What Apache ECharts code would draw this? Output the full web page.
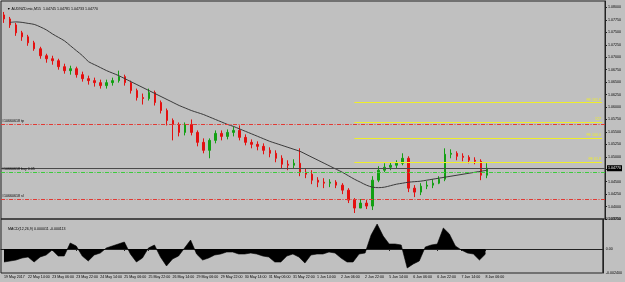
<!DOCTYPE html>
<html>
<head>
<meta charset="utf-8">
<script src="https://cdn.jsdelivr.net/npm/echarts@6/dist/echarts.min.js"></script>
<style>
  html, body { margin: 0; padding: 0; background: #c0c0c0; }
  #chart { width: 625px; height: 282px; }
</style>
</head>
<body>
<div id="chart"></div>
<script>
/* 4-hour buckets of the M15 chart */
const days = ['22 May', '23 May', '24 May', '25 May', '26 May', '29 May', '30 May', '31 May',
  '1 Jun', '2 Jun', '5 Jun', '6 Jun', '7 Jun', '8 Jun', '9 Jun', '12 Jun', '13 Jun'];
const hours = ['02:00', '06:00', '10:00', '14:00', '18:00', '22:00'];
const firstLabel = '19 May 2017';
const lastLabelIndex = 80;
const slotCount = 100;

const opens = [1.0785,1.0777,1.0765,1.0749,1.0741,1.0729,1.0717,1.0703,1.0697,1.0693,
  1.0681,1.0673,1.0677,1.0665,1.0657,1.0653,1.0649,1.0643,1.0649,1.0653,
  1.0661,1.0649,1.0633,1.0619,1.0617,1.0629,1.0609,1.0593,1.0573,1.0565,
  1.0549,1.0565,1.0549,1.0529,1.0513,1.0533,1.0547,1.0541,1.0549,1.0553,
  1.0539,1.0529,1.0525,1.0521,1.0513,1.0507,1.0497,1.0485,1.0483,1.0487,
  1.0469,1.0465,1.0453,1.0449,1.0447,1.0449,1.0443,1.0433,1.0413,1.0397,
  1.0407,1.0401,1.0453,1.0473,1.0479,1.0483,1.0487,1.0497,1.0437,1.0429,
  1.0441,1.0443,1.0447,1.0455,1.0505,1.0507,1.0501,1.0499,1.0493,1.0491,
  1.0463];
const closes = [1.0777,1.0765,1.0749,1.0741,1.0729,1.0717,1.0703,1.0697,1.0693,1.0681,
  1.0673,1.0677,1.0665,1.0657,1.0653,1.0649,1.0643,1.0649,1.0653,1.0661,
  1.0649,1.0633,1.0619,1.0617,1.0629,1.0609,1.0593,1.0573,1.0565,1.0549,
  1.0565,1.0549,1.0529,1.0513,1.0533,1.0547,1.0541,1.0549,1.0553,1.0539,
  1.0529,1.0525,1.0521,1.0513,1.0507,1.0497,1.0485,1.0483,1.0487,1.0469,
  1.0465,1.0453,1.0449,1.0447,1.0449,1.0443,1.0433,1.0413,1.0397,1.0407,
  1.0401,1.0453,1.0473,1.0479,1.0483,1.0487,1.0497,1.0437,1.0429,1.0441,
  1.0443,1.0447,1.0455,1.0505,1.0507,1.0501,1.0499,1.0493,1.0491,1.0463,
  1.0477];
const highs = [1.0791,1.0781,1.0769,1.0753,1.0745,1.0733,1.0721,1.0707,1.0703,1.0697,
  1.0687,1.0683,1.0681,1.0671,1.0663,1.0659,1.0655,1.0655,1.0659,1.0673,
  1.0665,1.0653,1.0637,1.0627,1.0637,1.0633,1.0613,1.0597,1.0577,1.0569,
  1.0569,1.0575,1.0553,1.0537,1.0537,1.0553,1.0553,1.0555,1.0561,1.0563,
  1.0545,1.0535,1.0531,1.0527,1.0519,1.0513,1.0503,1.0493,1.0495,1.0517,
  1.0477,1.0473,1.0459,1.0457,1.0455,1.0453,1.0447,1.0437,1.0417,1.0415,
  1.0413,1.0461,1.0481,1.0487,1.0489,1.0493,1.0507,1.0501,1.0443,1.0447,
  1.0451,1.0455,1.0461,1.0517,1.0515,1.0511,1.0507,1.0503,1.0499,1.0495,
  1.0487];
const lows = [1.0769,1.0759,1.0743,1.0733,1.0723,1.0713,1.0697,1.0689,1.0685,1.0675,
  1.0667,1.0665,1.0659,1.0651,1.0645,1.0641,1.0637,1.0637,1.0643,1.0649,
  1.0643,1.0627,1.0613,1.0605,1.0613,1.0603,1.0587,1.0563,1.0533,1.0541,
  1.0543,1.0543,1.0521,1.0507,1.0497,1.0527,1.0533,1.0535,1.0541,1.0533,
  1.0523,1.0517,1.0513,1.0505,1.0499,1.0489,1.0477,1.0473,1.0477,1.0461,
  1.0457,1.0445,1.0439,1.0437,1.0439,1.0437,1.0425,1.0407,1.0387,1.0397,
  1.0395,1.0393,1.0449,1.0469,1.0473,1.0477,1.0483,1.0429,1.0419,1.0423,
  1.0435,1.0437,1.0445,1.0451,1.0497,1.0493,1.0491,1.0487,1.0485,1.0453,
  1.0457];
const movingAvg = [null,1.0770,1.0771,1.0770,1.0768,1.0766,1.0761,1.0755,1.0747,1.0740,
  1.0733,1.0723,1.0713,1.0703,1.0691,1.0685,1.0679,1.0673,1.0668,1.0663,
  1.0657,1.0651,1.0645,1.0639,1.0633,1.0627,1.0621,1.0615,1.0609,1.0603,
  1.0598,1.0593,1.0589,1.0585,1.0580,1.0575,1.0570,1.0565,1.0561,1.0556,
  1.0551,1.0546,1.0541,1.0536,1.0531,1.0527,1.0523,1.0519,1.0515,1.0511,
  1.0505,1.0499,1.0493,1.0487,1.0481,1.0475,1.0469,1.0462,1.0455,1.0449,
  1.0443,1.0439,1.0438,1.0439,1.0442,1.0445,1.0447,1.0449,1.0450,1.0451,
  1.0453,1.0455,1.0457,1.0459,1.0461,1.0463,1.0465,1.0467,1.0469,1.0471,
  1.0473];
const macd = [-0.0013,-0.0012,-0.0011,-0.0009,-0.0008,-0.0013,-0.0008,-0.0006,-0.0001,-0.0007,
  -0.0007,0.0006,0.0003,-0.0007,-0.0012,-0.0006,-0.0004,0.0001,0.0003,0.0005,
  0.0007,-0.0005,-0.0013,-0.0009,0.0001,0.0004,-0.0008,-0.0017,-0.0010,-0.0007,
  0.0001,0.0009,-0.0005,-0.0011,-0.0009,-0.0006,-0.0005,-0.0003,-0.0003,-0.0005,
  -0.0005,-0.0004,-0.0005,-0.0007,-0.0008,-0.0013,-0.0013,-0.0007,-0.0005,-0.0008,
  -0.0014,-0.0006,-0.0005,-0.0005,-0.0003,-0.0004,-0.0009,-0.0013,-0.0013,-0.0005,
  -0.0004,0.0014,0.0025,0.0013,0.0005,0.0005,0.0004,-0.0019,-0.0015,-0.0012,
  0.0002,0.0004,0.0005,0.0021,0.0015,0.0003,-0.0001,-0.0004,-0.0005,-0.0011,
  -0.0005];

const fiboLevels = [1.0609, 1.0569, 1.0537, 1.0489];
const fiboNames = ['FE 161.8', '127', 'FE 100.0', 'FE 61.8'];
const fiboStart = 58;
const orderLevels = [1.0565, 1.0469, 1.0415];
const orderNames = ['#10660618 tp', '#10660618 buy 0.05', '#10660618 sl'];
const bidPrice = 1.0477;

/* 时间轴 */
const times = ['19 May 22:00'];
days.forEach(d => hours.forEach(h => times.push(d + ' ' + h)));
times.length = slotCount;

const candles = opens.map((o, i) => [o, closes[i], lows[i], highs[i]]);

const tiny = { fontSize: 3.6, fontFamily: 'Liberation Sans', color: '#000' };
const showLabel = i => i % 4 === 0 && i <= lastLabelIndex;

const orderColors = ['#e23a34', '#3ccc3c', '#e23a34'];
const markData = [];
orderLevels.forEach((p, i) => markData.push({
  yAxis: p,
  lineStyle: { color: orderColors[i], type: [4, 1.5, 1, 1.5], width: 1 },
  label: { show: true, position: 'insideStartTop', formatter: orderNames[i], distance: 1, ...tiny }
}));
fiboLevels.forEach((p, i) => markData.push([
  {
    coord: [fiboStart, p],
    lineStyle: { color: '#eeee2a', type: 'solid', width: 1 },
    label: { show: true, position: 'insideEndTop', formatter: fiboNames[i], distance: 1, ...tiny, color: '#eeee2a' }
  },
  { coord: [slotCount - 1, p] }
]));
markData.push({
  yAxis: bidPrice,
  lineStyle: { color: '#4a4a4a', type: 'solid', width: 1 },
  label: {
    show: true, position: 'end', distance: 2, formatter: bidPrice.toFixed(5),
    ...tiny, color: '#fff', backgroundColor: '#000', padding: [1, 1]
  }
});

const chart = echarts.init(document.getElementById('chart'), null, { renderer: 'canvas' });
chart.setOption({
  animation: false,
  backgroundColor: '#c0c0c0',
  title: [
    { text: '▼ AUDNZD.mic,M15  1.04745 1.04781 1.04733 1.04770', left: 2, top: 2,
      textStyle: { ...tiny, fontWeight: 'normal' } },
    { text: 'MACD(12,26,9) 0.000011 -0.000113', left: 3, top: 222,
      textStyle: { ...tiny, fontWeight: 'normal' } }
  ],
  grid: [
    { left: 1, right: 20, top: 1, height: 218, show: true, borderColor: '#222', borderWidth: 1 },
    { left: 1, right: 20, top: 219, height: 54, show: true, borderColor: '#222', borderWidth: 1 }
  ],
  xAxis: [
    { type: 'category', gridIndex: 0, data: times, boundaryGap: true,
      axisLine: { show: false }, axisTick: { show: false }, axisLabel: { show: false } },
    { type: 'category', gridIndex: 1, data: times, boundaryGap: true,
      axisLine: { lineStyle: { color: '#222' } },
      axisTick: { show: true, length: 2, interval: (i) => showLabel(i), lineStyle: { color: '#222' }, alignWithLabel: true },
      axisLabel: {
        ...tiny, margin: 2, align: 'left', interval: (i) => showLabel(i),
        formatter: (v, i) => (i === 0 ? firstLabel : v)
      } }
  ],
  yAxis: [
    { type: 'value', gridIndex: 0, position: 'right', min: 1.0375, max: 1.0813, interval: 0.0025,
      splitLine: { show: false },
      axisLine: { show: true, lineStyle: { color: '#222' } },
      axisTick: { show: true, length: 2, lineStyle: { color: '#222' } },
      axisLabel: { ...tiny, margin: 3, showMaxLabel: false, formatter: v => v.toFixed(5) } },
    { type: 'value', gridIndex: 1, position: 'right', min: -0.0024, max: 0.0030, interval: 0.0024,
      splitLine: { show: false },
      axisLine: { show: true, lineStyle: { color: '#222' } },
      axisTick: { show: false },
      axisLabel: { ...tiny, margin: 3, formatter: v => {
        if (Math.abs(v) < 1e-9) return '0.00';
        if (v > 0.0026) return '0.003000';
        if (v < -0.002) return '-0.002400';
        return '';
      } } }
  ],
  series: [
    {
      type: 'candlestick', xAxisIndex: 0, yAxisIndex: 0, data: candles, barWidth: 2,
      itemStyle: { color: '#12a012', color0: '#e41010', borderColor: '#12a012', borderColor0: '#e41010', borderWidth: 1 }
    },
    {
      type: 'line', xAxisIndex: 0, yAxisIndex: 0, data: movingAvg, showSymbol: false, smooth: 0.3,
      lineStyle: { color: '#3a3a3a', width: 1 },
      markLine: { silent: true, symbol: 'none', precision: 5, data: markData }
    },
    {
      type: 'line', xAxisIndex: 1, yAxisIndex: 1, data: macd, showSymbol: false,
      lineStyle: { color: '#000', width: 0.6 },
      areaStyle: { color: '#000', opacity: 1 }
    }
  ]
});
</script>
</body>
</html>
